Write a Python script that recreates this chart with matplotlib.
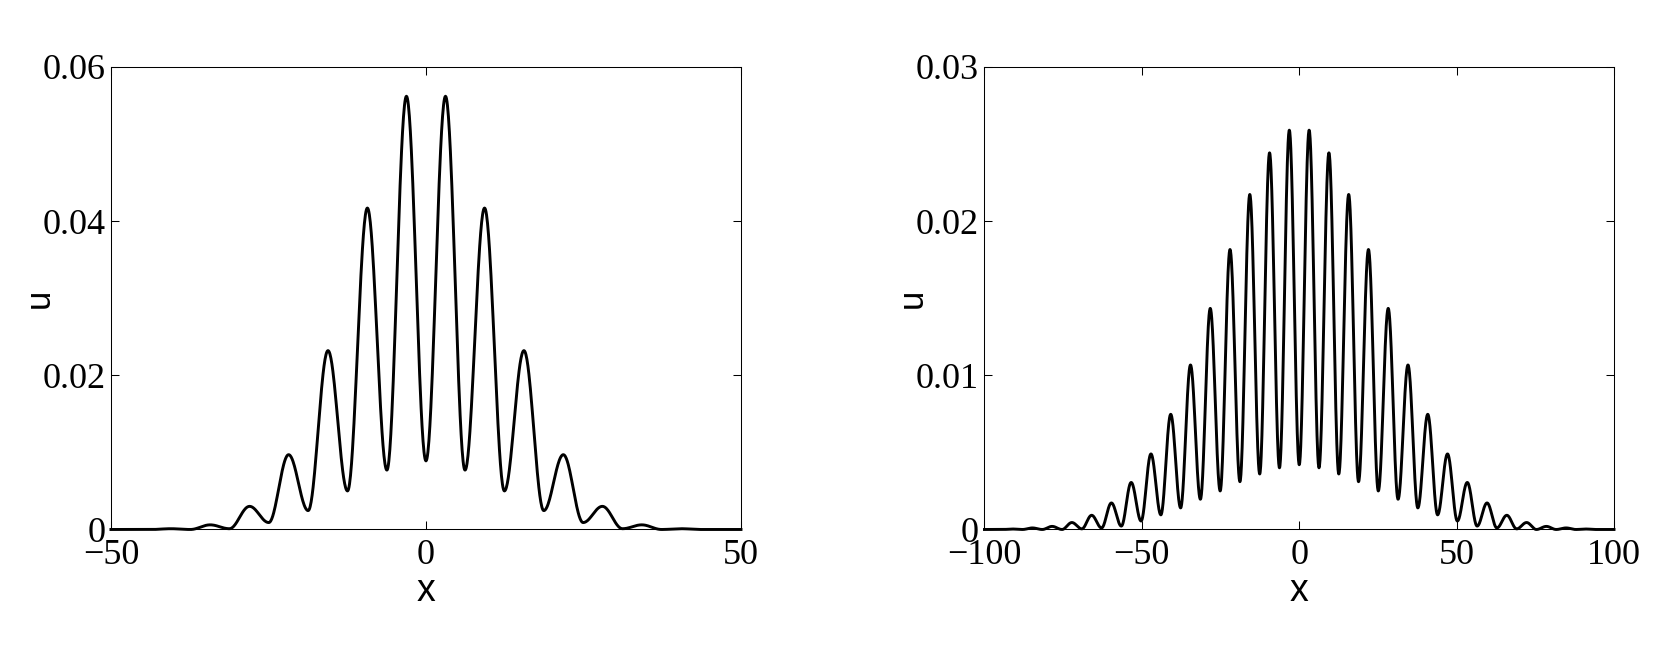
import numpy as np
import matplotlib
matplotlib.use("Agg")
import matplotlib.pyplot as plt
from matplotlib import font_manager

# extrema (x >= 0 half, curves are symmetric)
left_x = [0, 3.1, 6.2, 9.3, 12.45, 15.55, 18.7, 21.8, 24.95, 28.0, 31.2, 34.25, 37.4, 40.5, 43.6, 50]
left_u = [0.0089, 0.0562, 0.0077, 0.0417, 0.0050, 0.0232, 0.00245, 0.0097,
          0.0009, 0.0030, 0.0001, 0.0006, 0.0, 0.0001, 0.0, 0.0]

right_x = [0, 3.15, 6.28, 9.43, 12.56, 15.71, 18.84, 21.99, 25.12, 28.27, 31.4, 34.55,
           37.68, 40.83, 43.96, 47.11, 50.24, 53.39, 56.52, 59.67, 62.8, 65.95, 69.08,
           72.23, 75.36, 78.51, 81.64, 84.79, 87.92, 91.07, 94.2, 100]
right_u = [0.0042, 0.0259, 0.0040, 0.02443, 0.0036, 0.02173, 0.0031, 0.01816, 0.0025,
           0.01434, 0.00196, 0.01067, 0.0014, 0.00747, 0.00095, 0.0049, 0.00055, 0.00305,
           0.00022, 0.00172, 0.0001, 0.00092, 0.00004, 0.00045, 0.0, 0.0002, 0.0, 0.0001,
           0.0, 0.00003, 0.0, 0.0]

left_xticks = [-50, 0, 50]
left_yticks = [0, 0.02, 0.04, 0.06]
left_yticklabels = ["0", "0.02", "0.04", "0.06"]
right_xticks = [-100, -50, 0, 50, 100]
right_yticks = [0, 0.01, 0.02, 0.03]
right_yticklabels = ["0", "0.01", "0.02", "0.03"]

names = {f.name for f in font_manager.fontManager.ttflist}
label_font = "Liberation Sans Narrow" if "Liberation Sans Narrow" in names else "Liberation Sans"


def curve(xe, ue, n=40):
    xs, us = [], []
    for i in range(len(xe) - 1):
        t = np.linspace(0, 1, n, endpoint=False)
        xs.append(xe[i] + (xe[i + 1] - xe[i]) * t)
        us.append(ue[i] + (ue[i + 1] - ue[i]) * (1 - np.cos(np.pi * t)) / 2)
    xs.append([xe[-1]])
    us.append([ue[-1]])
    xs = np.concatenate(xs)
    us = np.concatenate(us)
    return np.concatenate([-xs[::-1], xs[1:]]), np.concatenate([us[::-1], us[1:]])


def panel(ax, xe, ue, xticks, yticks, ylabels):
    x, u = curve(xe, ue)
    ax.plot(x, u, color="k", lw=2.1, clip_on=False, zorder=3)
    ax.set_xlim(xticks[0], xticks[-1])
    ax.set_ylim(yticks[0], yticks[-1])
    ax.set_xticks(xticks)
    ax.set_xticklabels([str(v).replace("-", "\u2212") for v in xticks])
    ax.set_yticks(yticks)
    ax.set_yticklabels(ylabels)
    ax.tick_params(direction="in", top=True, right=True, length=5.5, width=0.75,
                   labelsize=26, pad=4)
    ax.tick_params(axis="x", pad=7)
    for lab in ax.get_xticklabels() + ax.get_yticklabels():
        lab.set_family("Liberation Serif")
    for s in ax.spines.values():
        s.set_linewidth(0.75)
    ax.set_xlabel("x", family=label_font, fontsize=27, va="center")
    ax.xaxis.set_label_coords(0.5, -0.133)
    ax.set_ylabel("u", family=label_font, fontsize=25, va="center")
    ax.yaxis.set_label_coords(-0.114, 0.5)


fig = plt.figure(figsize=(16.61, 6.54), dpi=100)
ax1 = fig.add_axes([0.0668, 0.1904, 0.3793, 0.7072])
ax2 = fig.add_axes([0.5927, 0.1904, 0.3790, 0.7072])
panel(ax1, left_x, left_u, left_xticks, left_yticks, left_yticklabels)
panel(ax2, right_x, right_u, right_xticks, right_yticks, right_yticklabels)
fig.savefig("out.png", dpi=100)
